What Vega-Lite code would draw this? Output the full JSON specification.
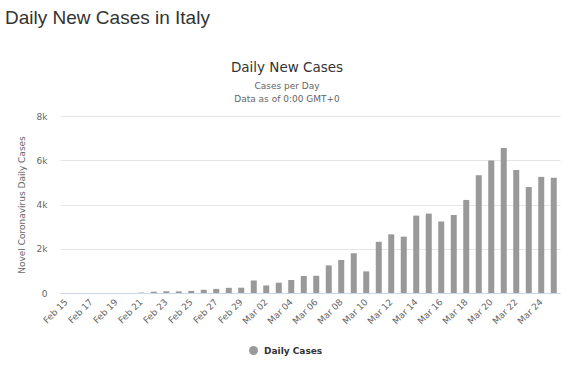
{
  "$schema": "https://vega.github.io/schema/vega-lite/v6.json",
  "background": "white",
  "padding": {"left": 5, "top": 8, "right": 8, "bottom": 5},
  "title": {
    "text": "Daily New Cases in Italy",
    "anchor": "start",
    "font": "Liberation Sans",
    "fontSize": 19,
    "fontWeight": "normal",
    "color": "#333333",
    "offset": 33,
    "dx": -12
  },
  "vconcat": [
    {
      "width": 500,
      "height": 177,
      "title": {
        "text": "Daily New Cases",
        "subtitle": ["Cases per Day", "Data as of 0:00 GMT+0"],
        "anchor": "middle",
        "dx": -23,
        "font": "DejaVu Sans",
        "fontSize": 13.5,
        "fontWeight": "normal",
        "color": "#333333",
        "subtitleFont": "DejaVu Sans",
        "subtitleFontSize": 9,
        "subtitleColor": "#666666",
        "subtitlePadding": 8,
        "subtitleLineHeight": 13,
        "offset": 8
      },
      "data": {
        "values": [
          {"date": "Feb 15", "cases": 0},
          {"date": "Feb 16", "cases": 0},
          {"date": "Feb 17", "cases": 0},
          {"date": "Feb 18", "cases": 0},
          {"date": "Feb 19", "cases": 0},
          {"date": "Feb 20", "cases": 0},
          {"date": "Feb 21", "cases": 17},
          {"date": "Feb 22", "cases": 59},
          {"date": "Feb 23", "cases": 78},
          {"date": "Feb 24", "cases": 72},
          {"date": "Feb 25", "cases": 94},
          {"date": "Feb 26", "cases": 147},
          {"date": "Feb 27", "cases": 185},
          {"date": "Feb 28", "cases": 234},
          {"date": "Feb 29", "cases": 239},
          {"date": "Mar 01", "cases": 566},
          {"date": "Mar 02", "cases": 342},
          {"date": "Mar 03", "cases": 466},
          {"date": "Mar 04", "cases": 587},
          {"date": "Mar 05", "cases": 769},
          {"date": "Mar 06", "cases": 778},
          {"date": "Mar 07", "cases": 1247},
          {"date": "Mar 08", "cases": 1492},
          {"date": "Mar 09", "cases": 1797},
          {"date": "Mar 10", "cases": 977},
          {"date": "Mar 11", "cases": 2313},
          {"date": "Mar 12", "cases": 2651},
          {"date": "Mar 13", "cases": 2547},
          {"date": "Mar 14", "cases": 3497},
          {"date": "Mar 15", "cases": 3590},
          {"date": "Mar 16", "cases": 3233},
          {"date": "Mar 17", "cases": 3526},
          {"date": "Mar 18", "cases": 4207},
          {"date": "Mar 19", "cases": 5322},
          {"date": "Mar 20", "cases": 5986},
          {"date": "Mar 21", "cases": 6557},
          {"date": "Mar 22", "cases": 5560},
          {"date": "Mar 23", "cases": 4789},
          {"date": "Mar 24", "cases": 5249},
          {"date": "Mar 25", "cases": 5210}
        ]
      },
      "mark": {"type": "bar"},
      "encoding": {
        "x": {
          "field": "date",
          "type": "ordinal",
          "sort": null,
          "scale": {"paddingInner": 0.52, "paddingOuter": 0.26},
          "axis": {
            "title": null,
            "values": ["Feb 15", "Feb 17", "Feb 19", "Feb 21", "Feb 23", "Feb 25", "Feb 27", "Feb 29", "Mar 02", "Mar 04", "Mar 06", "Mar 08", "Mar 10", "Mar 12", "Mar 14", "Mar 16", "Mar 18", "Mar 20", "Mar 22", "Mar 24"],
            "labelAngle": -45,
            "labelAlign": "right",
            "labelBaseline": "middle",
            "labelPadding": 7,
            "labelFont": "DejaVu Sans",
            "labelFontSize": 9,
            "labelColor": "#666666",
            "labelOverlap": false,
            "ticks": false,
            "domainColor": "#ccd6eb",
            "grid": false
          }
        },
        "y": {
          "field": "cases",
          "type": "quantitative",
          "scale": {"domain": [0, 8000], "nice": false},
          "axis": {
            "title": "Novel Coronavirus Daily Cases",
            "titleFont": "DejaVu Sans",
            "titleFontSize": 9,
            "titleFontWeight": "normal",
            "titleColor": "#666666",
            "titlePadding": 10,
            "values": [0, 2000, 4000, 6000, 8000],
            "labelExpr": "datum.value == 0 ? '0' : format(datum.value / 1000, 'd') + 'k'",
            "labelFont": "DejaVu Sans",
            "labelFontSize": 9,
            "labelColor": "#666666",
            "labelPadding": 13,
            "domain": false,
            "ticks": false,
            "gridColor": "#e6e6e6"
          }
        },
        "color": {
          "datum": "Daily Cases",
          "scale": {"range": ["#999999"]},
          "legend": {
            "orient": "none",
            "legendX": 189,
            "legendY": 230,
            "padding": 0,
            "direction": "horizontal",
            "title": null,
            "symbolType": "circle",
            "symbolSize": 80,
            "symbolStrokeWidth": 0,
            "labelFont": "DejaVu Sans",
            "labelFontSize": 9,
            "labelFontWeight": "bold",
            "labelColor": "#333333",
            "labelOffset": 6
          }
        }
      }
    }
  ],
  "config": {"view": {"stroke": null}}
}
